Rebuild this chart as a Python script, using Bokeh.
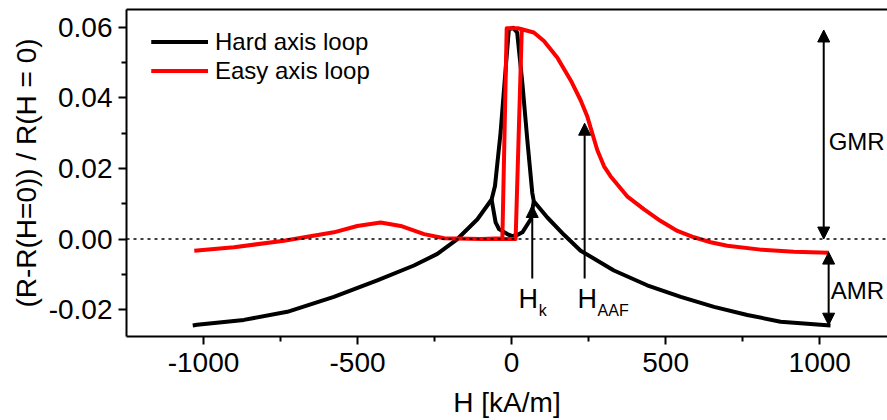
from bokeh.plotting import figure
from bokeh.models import (Range1d, FixedTicker, PrintfTickFormatter, LinearAxis, Span,
                          Arrow, NormalHead, Legend, LegendItem, ColumnDataSource)
from bokeh.core.properties import value
from bokeh.embed import file_html
from bokeh.resources import INLINE

# ---------------- data ----------------
# Hard axis loop: outer branch (left tail -> peak -> right tail)
hard_outer_h = [-1035, -1021, -869, -728, -577, -436, -317, -241, -176, -111, -65,
                -54, -36, -19, -9, 5, 18, 35, 51, 67, 72,
                116, 170, 224, 332, 440, 549, 657, 765, 873, 1035]
hard_outer_r = [-0.0245, -0.0243, -0.0229, -0.0206, -0.0164, -0.0117, -0.0075, -0.0042, 0.0, 0.0056, 0.0112,
                0.0150, 0.0300, 0.0486, 0.0594, 0.0598, 0.0585, 0.0440, 0.0280, 0.0131, 0.0107,
                0.0061, 0.0012, -0.0033, -0.0089, -0.0131, -0.0164, -0.0192, -0.0215, -0.0234, -0.0245]
# Hard axis loop: inner dip between the two kinks
hard_inner_h = [72, 62, 35, 20, 2, -14, -41, -52, -65]
hard_inner_r = [0.0107, 0.0056, 0.0019, 0.0012, 0.0008, 0.0014, 0.0028, 0.0047, 0.0112]

# Easy axis loop: increasing field sweep
easy_up_h = [-1030, -901, -739, -577, -501, -425, -360, -284, -219, -100, -36, 13,
             33, 72, 105, 148, 192, 224, 246, 262, 278, 300, 321, 375, 430, 484, 538, 592,
             646, 700, 808, 916, 1030]
easy_up_r = [-0.0033, -0.0023, -0.0005, 0.0019, 0.0037, 0.0047, 0.0037, 0.0014, 0.0002, 0.0, 0.0, 0.0,
             0.0594, 0.0585, 0.0561, 0.0514, 0.0449, 0.0393, 0.0346, 0.0299, 0.0252, 0.0206, 0.0178,
             0.0121, 0.0084, 0.0051, 0.0023, 0.0005, -0.0009, -0.0019, -0.0030, -0.0036, -0.0039]
# Easy axis loop: decreasing field sweep (part that differs)
easy_down_h = [33, 20, -16, -30, -100]
easy_down_r = [0.0594, 0.0597, 0.0597, 0.0002, 0.0]

x_ticks = [-1000, -500, 0, 500, 1000]
x_minor = [-750, -250, 250, 750]
y_ticks = [-0.02, 0.0, 0.02, 0.04, 0.06]
y_minor = [-0.01, 0.01, 0.03, 0.05]

# annotation values
gmr_h, gmr_top, gmr_bot = 1013, 0.0592, 0.0
amr_h, amr_top, amr_bot = 1029, -0.0037, -0.0244
hk_h, hk_bot, hk_tip = 67, -0.0112, 0.0095
haaf_h, haaf_bot, haaf_tip = 237, -0.0112, 0.0328

FONT = "Liberation Sans"

p = figure(width=887, height=420, x_range=Range1d(-1250, 1220), y_range=Range1d(-0.0276, 0.065),
           output_backend="svg", toolbar_location=None,
           min_border_left=126, min_border_right=0, min_border_top=9, min_border_bottom=82)
p.grid.visible = False
p.outline_line_color = None
p.background_fill_color = "white"

for ax in (p.xaxis[0], p.yaxis[0]):
    ax.axis_line_width = 2
    ax.major_tick_line_width = 2
    ax.minor_tick_line_width = 2
    ax.major_tick_in = 0
    ax.minor_tick_in = 0
    ax.major_tick_out = 8
    ax.minor_tick_out = 5
    ax.major_label_text_font = FONT
    ax.major_label_text_font_size = "28px"
    ax.major_label_text_color = "black"
    ax.axis_label_text_font = FONT
    ax.axis_label_text_font_size = "28px"
    ax.axis_label_text_font_style = "normal"
    ax.axis_label_text_color = "black"

p.xaxis.ticker = FixedTicker(ticks=x_ticks, minor_ticks=x_minor)
p.yaxis.ticker = FixedTicker(ticks=y_ticks, minor_ticks=y_minor)
p.xaxis.formatter = PrintfTickFormatter(format="%d")
p.yaxis.formatter = PrintfTickFormatter(format="%.2f")
p.xaxis.axis_label = "H [kA/m]"
p.yaxis.axis_label = "(R-R(H=0)) / R(H = 0)"
p.xaxis.major_label_standoff = 8
p.xaxis.axis_label_standoff = 12
p.yaxis.major_label_standoff = 6
p.yaxis.axis_label_standoff = 4

top = LinearAxis(ticker=FixedTicker(ticks=[]), major_tick_line_color=None,
                 minor_tick_line_color=None, axis_line_width=2, major_label_standoff=0)
p.add_layout(top, "above")

p.add_layout(Span(location=0, dimension="width", line_color="black", line_width=1.5,
                  line_dash="3 4"))

src_ho = ColumnDataSource(dict(h=hard_outer_h, r=hard_outer_r))
src_hi = ColumnDataSource(dict(h=hard_inner_h, r=hard_inner_r))
src_eu = ColumnDataSource(dict(h=easy_up_h, r=easy_up_r))
src_ed = ColumnDataSource(dict(h=easy_down_h, r=easy_down_r))

r_ho = p.line("h", "r", source=src_ho, line_color="black", line_width=4, line_join="round")
r_hi = p.line("h", "r", source=src_hi, line_color="black", line_width=4, line_join="round")
r_eu = p.line("h", "r", source=src_eu, line_color="#ff0000", line_width=4, line_join="round")
r_ed = p.line("h", "r", source=src_ed, line_color="#ff0000", line_width=4, line_join="round")

def head():
    return NormalHead(size=12, fill_color="black", line_color="black", line_width=1)

p.add_layout(Arrow(x_start=gmr_h, y_start=gmr_bot, x_end=gmr_h, y_end=gmr_top,
                   start=head(), end=head(), line_width=2, line_color="black"))
p.add_layout(Arrow(x_start=amr_h, y_start=amr_bot, x_end=amr_h, y_end=amr_top,
                   start=head(), end=head(), line_width=2, line_color="black"))
p.add_layout(Arrow(x_start=hk_h, y_start=hk_bot, x_end=hk_h, y_end=hk_tip,
                   end=head(), line_width=2, line_color="black"))
p.add_layout(Arrow(x_start=haaf_h, y_start=haaf_bot, x_end=haaf_h, y_end=haaf_tip,
                   end=head(), line_width=2, line_color="black"))

lab = ColumnDataSource(dict(x=[1029, 1036], y=[0.0275, -0.0146], t=["GMR", "AMR"]))
p.text("x", "y", text="t", source=lab, text_font=value(FONT), text_font_size="24px",
       text_align="left", text_baseline="middle", text_color="black")

big = ColumnDataSource(dict(x=[22, 214], y=[-0.0171, -0.0171], t=["H", "H"]))
p.text("x", "y", text="t", source=big, text_font=value(FONT), text_font_size="27px",
       text_align="left", text_baseline="alphabetic", text_color="black")
sub = ColumnDataSource(dict(x=[88, 279], y=[-0.0202, -0.0202], t=["k", "AAF"]))
p.text("x", "y", text="t", source=sub, text_font=value(FONT), text_font_size="16px",
       text_align="left", text_baseline="alphabetic", text_color="black")

legend = Legend(items=[LegendItem(label="Hard axis loop", renderers=[r_ho, r_hi]),
                       LegendItem(label="Easy axis loop", renderers=[r_eu, r_ed])],
                location=(25, 251), orientation="vertical",
                label_text_font=FONT, label_text_font_size="24px", label_text_color="black",
                glyph_width=57, glyph_height=29, label_height=29, spacing=0,
                padding=0, margin=0, label_standoff=7,
                border_line_color=None, background_fill_alpha=0)
p.add_layout(legend)

open("out.html", "w").write(file_html(p, INLINE))
